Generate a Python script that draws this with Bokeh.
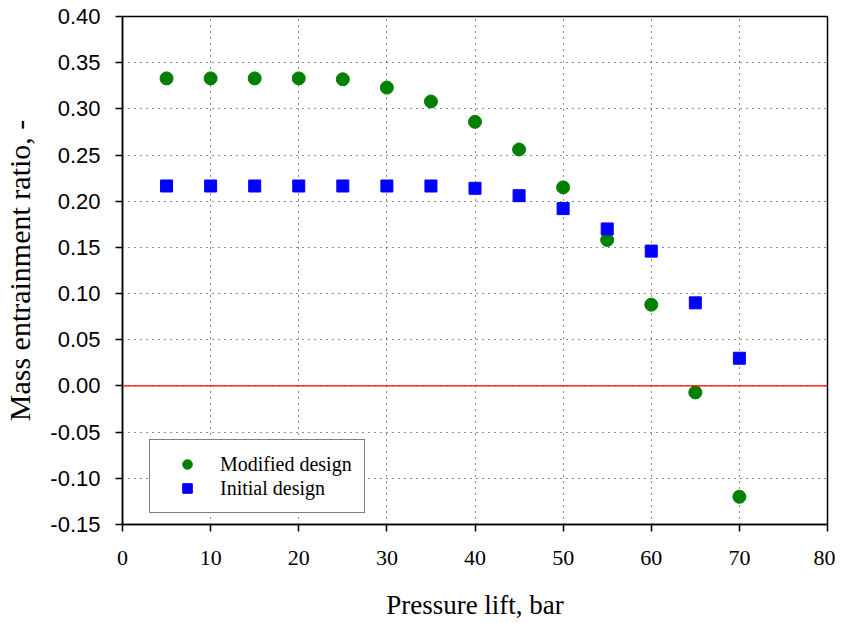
from bokeh.plotting import figure
from bokeh.models import FixedTicker, Legend, LegendItem, Span, Range1d, NumeralTickFormatter
from bokeh.embed import file_html
from bokeh.resources import INLINE

# Data
pressure_lift = [5, 10, 15, 20, 25, 30, 35, 40, 45, 50, 55, 60, 65, 70]
modified_design = [0.333, 0.333, 0.333, 0.333, 0.332, 0.323, 0.308, 0.286, 0.256, 0.215,
                   0.158, 0.088, -0.007, -0.120]
initial_design = [0.2165, 0.2165, 0.2165, 0.2165, 0.2165, 0.2165, 0.2165, 0.214, 0.206, 0.192,
                  0.170, 0.146, 0.090, 0.030]

x_ticks = [0, 10, 20, 30, 40, 50, 60, 70, 80]
y_ticks = [-0.15, -0.10, -0.05, 0.0, 0.05, 0.10, 0.15, 0.20, 0.25, 0.30, 0.35, 0.40]

SERIF = "Liberation Serif"
SANS = "Liberation Sans"

p = figure(frame_width=705, frame_height=508, output_backend="svg", toolbar_location=None,
           x_range=Range1d(0, 80), y_range=Range1d(-0.15, 0.40),
           min_border_left=113, min_border_right=8, min_border_top=16, min_border_bottom=96)

p.outline_line_color = "black"
p.outline_line_width = 1.5

# grids
for g in (p.xgrid, p.ygrid):
    g.grid_line_color = "black"
    g.grid_line_dash = "1 5"
    g.grid_line_width = 1
    g.grid_line_alpha = 0.9

p.xaxis.ticker = FixedTicker(ticks=x_ticks)
p.yaxis.ticker = FixedTicker(ticks=y_ticks)
p.yaxis.formatter = NumeralTickFormatter(format="0.00")

for ax in (p.xaxis, p.yaxis):
    ax.axis_line_color = "black"
    ax.axis_line_width = 1.5
    ax.major_tick_line_color = "black"
    ax.major_tick_line_width = 1.5
    ax.major_tick_out = 7
    ax.major_tick_in = 0
    ax.minor_tick_line_color = None
    ax.axis_label_text_font = SERIF
    ax.axis_label_text_font_style = "normal"
    ax.axis_label_text_color = "black"
    ax.major_label_text_color = "black"

p.xaxis.axis_label = "Pressure lift, bar"
p.xaxis.axis_label_text_font_size = "27px"
p.xaxis.major_label_text_font = SERIF
p.xaxis.major_label_text_font_size = "22px"
p.xaxis.major_label_standoff = 19
p.xaxis.axis_label_standoff = 22

p.yaxis.axis_label = "Mass entrainment ratio, -"
p.yaxis.axis_label_text_font_size = "30px"
p.yaxis.major_label_text_font = SANS
p.yaxis.major_label_text_font_size = "22px"
p.yaxis.major_label_standoff = 15
p.yaxis.axis_label_standoff = 11

zero = Span(location=0, dimension="width", line_color="#FF0000", line_width=1.2)
p.add_layout(zero)

r_mod = p.scatter(pressure_lift, modified_design, marker="circle", size=13,
                  fill_color="#008000", line_color="#008000")
r_ini = p.scatter(pressure_lift, initial_design, marker="square", size=12,
                  fill_color="#0000FF", line_color="#0000FF")

legend = Legend(items=[LegendItem(label="Modified design", renderers=[r_mod]),
                       LegendItem(label="Initial design", renderers=[r_ini])],
                location=(27, 11))
legend.label_text_font = SERIF
legend.label_text_font_size = "20px"
legend.label_text_color = "black"
legend.glyph_width = 50
legend.glyph_height = 24
legend.label_height = 20
legend.spacing = 0
legend.padding = 12
legend.label_standoff = 8
legend.label_width = 132
legend.margin = 0
legend.border_line_color = "black"
legend.border_line_width = 1.5
legend.background_fill_color = "white"
legend.background_fill_alpha = 1
p.add_layout(legend, "center")

open("out.html", "w").write(file_html(p, INLINE))
